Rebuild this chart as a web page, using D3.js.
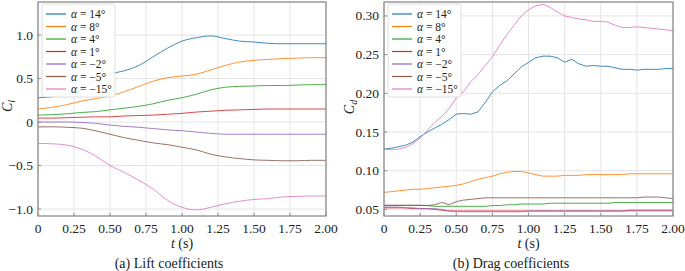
<!DOCTYPE html>
<html>
<head>
<meta charset="utf-8">
<script src="https://cdn.jsdelivr.net/npm/d3@7"></script>
<style>
  body { margin: 0; background: #fff; }
  svg text { font-family: "Liberation Serif", "Times New Roman", "DejaVu Serif", serif; }
</style>
</head>
<body>
<svg id="fig" width="685" height="271"></svg>
<script>
// series labels and colours (matplotlib tab10)
var alphas = ["14", "8", "4", "1", "\u22122", "\u22125", "\u221215"];
var colors = ["#1f77b4", "#ff7f0e", "#2ca02c", "#d62728", "#9467bd", "#8c564b", "#e377c2"];

// lift: t = 0, 0.1, ... 2.0
var liftT = d3.range(21).map(i => i / 10);
var lift14  = [0.28, 0.29, 0.32, 0.38, 0.47, 0.55, 0.59, 0.65, 0.75, 0.85, 0.93, 0.97, 0.99, 0.96, 0.93, 0.92, 0.905, 0.90, 0.90, 0.90, 0.90];
var lift8   = [0.15, 0.17, 0.20, 0.24, 0.27, 0.30, 0.35, 0.41, 0.47, 0.51, 0.53, 0.55, 0.60, 0.65, 0.69, 0.71, 0.72, 0.73, 0.735, 0.74, 0.74];
var lift4   = [0.08, 0.085, 0.095, 0.11, 0.12, 0.14, 0.16, 0.18, 0.21, 0.25, 0.28, 0.32, 0.37, 0.40, 0.41, 0.415, 0.42, 0.42, 0.425, 0.43, 0.43];
var lift1   = [0.045, 0.045, 0.05, 0.055, 0.06, 0.06, 0.07, 0.075, 0.08, 0.09, 0.10, 0.115, 0.125, 0.135, 0.14, 0.145, 0.15, 0.15, 0.15, 0.15, 0.15];
var liftM2  = [0, 0, 0, -0.005, -0.015, -0.035, -0.05, -0.06, -0.075, -0.09, -0.10, -0.115, -0.13, -0.14, -0.14, -0.14, -0.14, -0.14, -0.14, -0.14, -0.14];
var liftM5  = [-0.055, -0.055, -0.06, -0.07, -0.10, -0.14, -0.18, -0.21, -0.24, -0.26, -0.29, -0.32, -0.37, -0.40, -0.42, -0.435, -0.44, -0.445, -0.445, -0.44, -0.44];
var liftM15 = [-0.245, -0.25, -0.265, -0.31, -0.39, -0.50, -0.58, -0.67, -0.77, -0.90, -0.98, -1.01, -0.98, -0.94, -0.91, -0.89, -0.88, -0.86, -0.855, -0.85, -0.85];

// drag: t = 0, 0.05, ... 2.0
var dragT = d3.range(41).map(i => i / 20);
var drag14  = [0.128, 0.129, 0.131, 0.133, 0.137, 0.144, 0.150, 0.155, 0.160, 0.166, 0.173, 0.174, 0.173, 0.176, 0.188, 0.202, 0.210, 0.216, 0.225, 0.234, 0.240,
               0.246, 0.248, 0.248, 0.246, 0.240, 0.244, 0.238, 0.235, 0.236, 0.235, 0.235, 0.233, 0.231, 0.231, 0.230, 0.231, 0.231, 0.231, 0.232, 0.232];
var drag8   = [0.072, 0.073, 0.074, 0.075, 0.076, 0.076, 0.077, 0.078, 0.079, 0.080, 0.081, 0.083, 0.086, 0.089, 0.091, 0.093, 0.096, 0.098, 0.099, 0.099, 0.097,
               0.095, 0.093, 0.093, 0.093, 0.094, 0.094, 0.094, 0.095, 0.095, 0.095, 0.095, 0.095, 0.095, 0.096, 0.096, 0.096, 0.096, 0.096, 0.096, 0.096];
var drag4   = [0.055, 0.055, 0.055, 0.055, 0.055, 0.055, 0.055, 0.054, 0.054, 0.054, 0.054, 0.054, 0.054, 0.054, 0.054, 0.055, 0.055, 0.056, 0.056, 0.057, 0.057,
               0.057, 0.057, 0.058, 0.058, 0.058, 0.058, 0.058, 0.058, 0.058, 0.058, 0.058, 0.059, 0.059, 0.059, 0.059, 0.059, 0.059, 0.059, 0.059, 0.059];
var drag1   = [0.052, 0.052, 0.052, 0.052, 0.051, 0.051, 0.051, 0.050, 0.049, 0.048, 0.048, 0.048, 0.048, 0.048, 0.048, 0.048, 0.048, 0.048, 0.048, 0.048, 0.048,
               0.048, 0.048, 0.048, 0.048, 0.048, 0.048, 0.048, 0.048, 0.048, 0.048, 0.048, 0.048, 0.048, 0.049, 0.049, 0.049, 0.049, 0.049, 0.049, 0.049];
var dragM2  = [0.053, 0.053, 0.053, 0.052, 0.052, 0.051, 0.051, 0.051, 0.050, 0.048, 0.047, 0.047, 0.047, 0.047, 0.047, 0.047, 0.047, 0.047, 0.047, 0.047, 0.048,
               0.048, 0.048, 0.048, 0.048, 0.048, 0.048, 0.048, 0.048, 0.048, 0.048, 0.048, 0.048, 0.048, 0.048, 0.048, 0.048, 0.048, 0.048, 0.048, 0.048];
var dragM5  = [0.0555, 0.0555, 0.0555, 0.0555, 0.0555, 0.0555, 0.055, 0.056, 0.059, 0.056, 0.060, 0.062, 0.063, 0.064, 0.065, 0.065, 0.065, 0.065, 0.065, 0.065, 0.065,
               0.065, 0.065, 0.065, 0.065, 0.065, 0.065, 0.065, 0.065, 0.065, 0.065, 0.065, 0.065, 0.065, 0.065, 0.065, 0.066, 0.066, 0.066, 0.065, 0.064];
var dragM15 = [0.128, 0.127, 0.128, 0.130, 0.135, 0.142, 0.152, 0.162, 0.170, 0.180, 0.194, 0.202, 0.215, 0.224, 0.236, 0.247, 0.262, 0.276, 0.288, 0.300, 0.308,
               0.313, 0.315, 0.311, 0.305, 0.300, 0.298, 0.296, 0.295, 0.293, 0.293, 0.292, 0.288, 0.285, 0.285, 0.286, 0.285, 0.284, 0.283, 0.282, 0.281];

var xTicks = [0, 0.25, 0.5, 0.75, 1, 1.25, 1.5, 1.75, 2];
var xTickLabels = ["0", "0.25", "0.50", "0.75", "1.00", "1.25", "1.50", "1.75", "2.00"];
var liftTicks = [-1, -0.5, 0, 0.5, 1];
var liftTickLabels = ["\u22121.0", "\u22120.5", "0", "0.5", "1.0"];
var dragTicks = [0.05, 0.10, 0.15, 0.20, 0.25, 0.30];
var dragTickLabels = ["0.05", "0.10", "0.15", "0.20", "0.25", "0.30"];

var FONT = "'Liberation Serif', 'Times New Roman', 'DejaVu Serif', serif";
var svg = d3.select("#fig");

function label(g) {
  return g.append("text").attr("font-family", FONT).attr("fill", "#222");
}

function panel(cfg) {
  var x = d3.scaleLinear().domain([0, 2]).range([cfg.left, cfg.right]);
  var y = d3.scaleLinear().domain(cfg.ylim).range([cfg.bottom, cfg.top]);
  var g = svg.append("g");

  // grid
  g.selectAll(".gx").data(xTicks).enter().append("line")
    .attr("x1", d => x(d)).attr("x2", d => x(d))
    .attr("y1", cfg.top).attr("y2", cfg.bottom)
    .attr("stroke", "#e4e4e4").attr("stroke-width", 1);
  g.selectAll(".gy").data(cfg.yticks).enter().append("line")
    .attr("x1", cfg.left).attr("x2", cfg.right)
    .attr("y1", d => y(d)).attr("y2", d => y(d))
    .attr("stroke", "#e4e4e4").attr("stroke-width", 1);

  // lines
  var line = d3.line().x(d => x(d[0])).y(d => y(d[1])).curve(cfg.curve);
  cfg.series.forEach((s, i) => {
    var pts = cfg.t.map((t, j) => [t, s[j]]);
    g.append("path").attr("d", line(pts))
      .attr("fill", "none").attr("stroke", colors[i])
      .attr("stroke-width", 1).attr("stroke-opacity", 0.85);
  });

  // frame
  g.append("rect")
    .attr("x", cfg.left).attr("y", cfg.top)
    .attr("width", cfg.right - cfg.left).attr("height", cfg.bottom - cfg.top)
    .attr("fill", "none").attr("stroke", "#8c8c8c").attr("stroke-width", 1.3);

  // ticks
  g.selectAll(".tx").data(xTicks).enter().append("line")
    .attr("x1", d => x(d)).attr("x2", d => x(d))
    .attr("y1", cfg.bottom).attr("y2", cfg.bottom - 3)
    .attr("stroke", "#8c8c8c");
  g.selectAll(".ty").data(cfg.yticks).enter().append("line")
    .attr("x1", cfg.left).attr("x2", cfg.left + 3)
    .attr("y1", d => y(d)).attr("y2", d => y(d))
    .attr("stroke", "#8c8c8c");

  // tick labels
  xTicks.forEach((d, i) => {
    label(g).attr("x", x(d)).attr("y", cfg.bottom + 17)
      .attr("text-anchor", "middle").attr("font-size", 13.5)
      .text(xTickLabels[i]);
  });
  cfg.yticks.forEach((d, i) => {
    label(g).attr("x", cfg.left - 5).attr("y", y(d) + 4.5)
      .attr("text-anchor", "end").attr("font-size", 13.5)
      .text(cfg.ylabels[i]);
  });

  // axis labels
  var cx = (cfg.left + cfg.right) / 2;
  var xl = label(g).attr("x", cx).attr("y", 248)
    .attr("text-anchor", "middle").attr("font-size", 14);
  xl.append("tspan").attr("font-style", "italic").text("t");
  xl.append("tspan").text(" (s)");

  var yl = label(g)
    .attr("transform", `translate(${cfg.ylabelX},${cfg.ylabelY}) rotate(-90)`)
    .attr("text-anchor", "middle").attr("font-size", 14);
  yl.append("tspan").attr("font-style", "italic").text("C");
  yl.append("tspan").attr("font-style", "italic").attr("font-size", 10).attr("dy", 3).text(cfg.sub);

  label(g).attr("x", cfg.captionX).attr("y", 268)
    .attr("text-anchor", "middle").attr("font-size", 14)
    .text(cfg.caption);

  // legend
  var lx = cfg.left + 4, ly = 4;
  g.append("rect").attr("x", lx).attr("y", ly).attr("width", 73).attr("height", 93)
    .attr("rx", 2.5).attr("fill", "#fff").attr("fill-opacity", 0.9)
    .attr("stroke", "#d6d6d6").attr("stroke-width", 0.8);
  alphas.forEach((a, i) => {
    var yy = ly + 10 + i * 12.5;
    g.append("line").attr("x1", lx + 4).attr("x2", lx + 24)
      .attr("y1", yy).attr("y2", yy)
      .attr("stroke", colors[i]).attr("stroke-width", 1.2);
    var t = label(g).attr("x", lx + 29).attr("y", yy + 4).attr("font-size", 11.5);
    t.append("tspan").attr("font-style", "italic").text("\u03b1");
    t.append("tspan").text(" = " + a + "\u00b0");
  });
}

panel({
  left: 38, right: 326, top: 2, bottom: 216,
  ylim: [-1.08, 1.38], yticks: liftTicks, ylabels: liftTickLabels,
  t: liftT, series: [lift14, lift8, lift4, lift1, liftM2, liftM5, liftM15],
  curve: d3.curveMonotoneX,
  sub: "l", ylabelX: 12, ylabelY: 106, captionX: 169, caption: "(a) Lift coefficients"
});

panel({
  left: 384, right: 673, top: 2, bottom: 216,
  ylim: [0.0415, 0.318], yticks: dragTicks, ylabels: dragTickLabels,
  t: dragT, series: [drag14, drag8, drag4, drag1, dragM2, dragM5, dragM15],
  curve: d3.curveLinear,
  sub: "d", ylabelX: 354, ylabelY: 107, captionX: 511, caption: "(b) Drag coefficients"
});
</script>
</body>
</html>
